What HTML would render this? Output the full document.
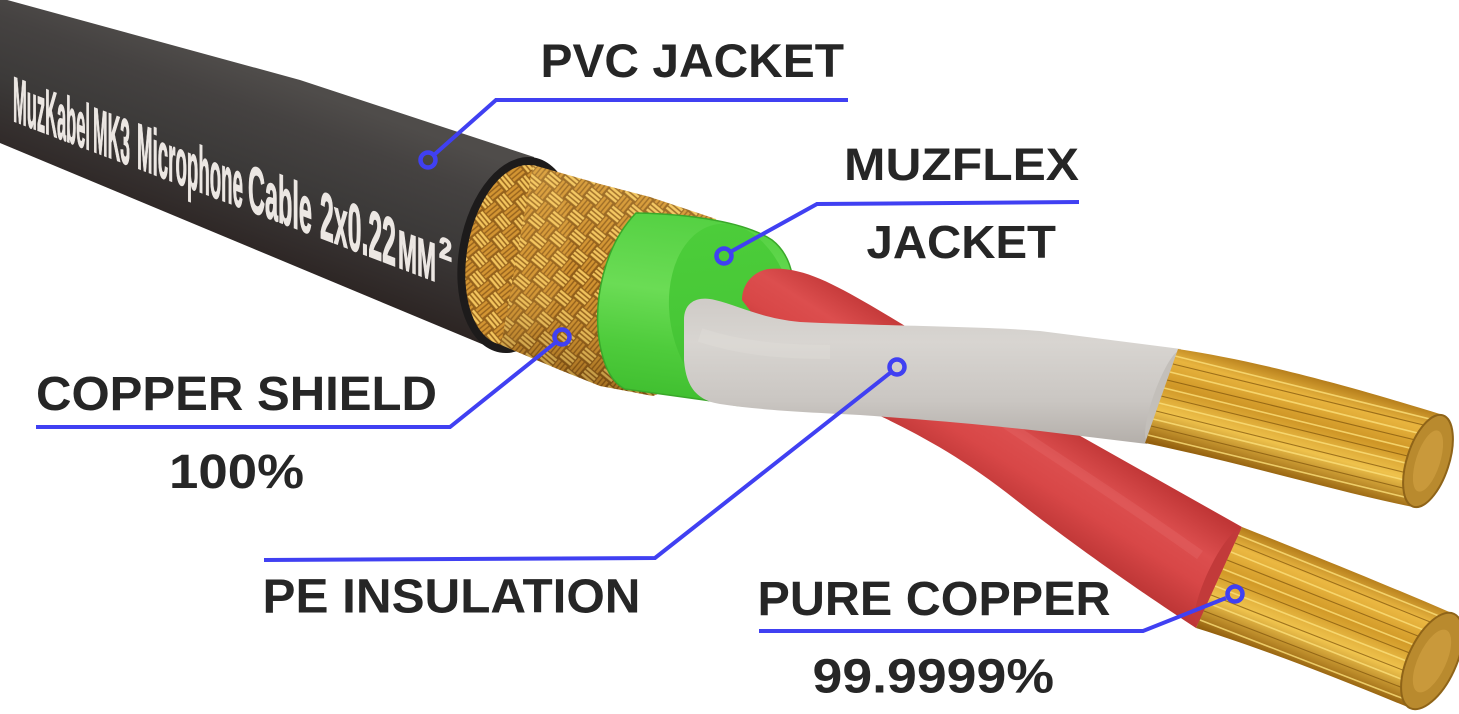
<!DOCTYPE html>
<html><head><meta charset="utf-8"><style>
html,body{margin:0;padding:0;background:#fff;}
svg{display:block;}
</style></head><body>
<svg width="1459" height="714" viewBox="0 0 1459 714" xmlns="http://www.w3.org/2000/svg">
<defs>
 <linearGradient id="gBlack" gradientUnits="userSpaceOnUse" x1="250" y1="68" x2="185" y2="245">
  <stop offset="0" stop-color="#4f4c4a"/>
  <stop offset="0.2" stop-color="#454241"/>
  <stop offset="0.5" stop-color="#3c3a39"/>
  <stop offset="0.8" stop-color="#322c2b"/>
  <stop offset="1" stop-color="#2a2220"/>
 </linearGradient>
 <pattern id="braid" width="28" height="28" patternUnits="userSpaceOnUse" patternTransform="rotate(40)">
  <rect width="28" height="28" fill="#8a5614"/>
  <path d="M0,2.5H14M0,6.5H14M0,10.5H14M14,16.5H28M14,20.5H28M14,24.5H28" stroke="#f2c45c" stroke-width="2.6"/>
  <path d="M16.5,0V14M20.5,0V14M24.5,0V14M2.5,14V28M6.5,14V28M10.5,14V28" stroke="#cf8f2c" stroke-width="2.6"/>
 </pattern>
 <linearGradient id="gBraidShade" gradientUnits="userSpaceOnUse" x1="610" y1="185" x2="565" y2="390">
  <stop offset="0" stop-color="#ffe08a" stop-opacity="0.2"/>
  <stop offset="0.45" stop-color="#ffd070" stop-opacity="0.05"/>
  <stop offset="1" stop-color="#3a2000" stop-opacity="0.35"/>
 </linearGradient>
 <linearGradient id="gGreen" gradientUnits="userSpaceOnUse" x1="650" y1="212" x2="625" y2="400">
  <stop offset="0" stop-color="#55d143"/>
  <stop offset="0.4" stop-color="#6bdc55"/>
  <stop offset="0.7" stop-color="#4fcc3c"/>
  <stop offset="1" stop-color="#3ebd2e"/>
 </linearGradient>
 <linearGradient id="gGreenFace" gradientUnits="userSpaceOnUse" x1="740" y1="225" x2="730" y2="405">
  <stop offset="0" stop-color="#4ccd3a"/>
  <stop offset="0.5" stop-color="#48c837"/>
  <stop offset="1" stop-color="#3fbb30"/>
 </linearGradient>
 <linearGradient id="gRed" gradientUnits="userSpaceOnUse" x1="1090" y1="435" x2="1030" y2="530">
  <stop offset="0" stop-color="#c03636"/>
  <stop offset="0.35" stop-color="#dc4e4e"/>
  <stop offset="0.6" stop-color="#d84747"/>
  <stop offset="1" stop-color="#b93333"/>
 </linearGradient>
 <linearGradient id="gGrey" gradientUnits="userSpaceOnUse" x1="0" y1="298" x2="0" y2="445">
  <stop offset="0" stop-color="#cfcbc7"/>
  <stop offset="0.3" stop-color="#d8d5d1"/>
  <stop offset="0.7" stop-color="#cac6c2"/>
  <stop offset="1" stop-color="#b3aea9"/>
 </linearGradient>
 <linearGradient id="gTip1" gradientUnits="userSpaceOnUse" x1="1300" y1="372" x2="1272" y2="475">
  <stop offset="0" stop-color="#b07818"/>
  <stop offset="0.2" stop-color="#e8b43e"/>
  <stop offset="0.45" stop-color="#cf9626"/>
  <stop offset="0.7" stop-color="#efc24c"/>
  <stop offset="1" stop-color="#94600e"/>
 </linearGradient>
 <linearGradient id="gTip2" gradientUnits="userSpaceOnUse" x1="1335" y1="562" x2="1295" y2="665">
  <stop offset="0" stop-color="#b07818"/>
  <stop offset="0.2" stop-color="#ebb842"/>
  <stop offset="0.45" stop-color="#d29a28"/>
  <stop offset="0.7" stop-color="#f0c44e"/>
  <stop offset="1" stop-color="#94600e"/>
 </linearGradient>
 <clipPath id="cTip1"><path d="M1178,349 C1250,360 1330,380 1443,415 L1453,445 L1413,507 C1330,490 1250,465 1145,443 Z"/></clipPath>
 <clipPath id="cTip2"><path d="M1242,527 C1300,550 1380,582 1454,614 L1462,650 L1410,708 C1330,675 1260,648 1196,628 Z"/></clipPath>
</defs>

<rect width="1459" height="714" fill="#ffffff"/>

<!-- Black PVC jacket -->
<path d="M0,-2 L300,80 L534,157 L501,352 L0,143 Z" fill="url(#gBlack)"/>
<ellipse cx="517" cy="255" rx="58" ry="99" transform="rotate(10 517 255)" fill="#1d1b1b"/>

<!-- Jacket print -->
<g transform="matrix(1,0.38,0,1,0,0)" font-family="'Liberation Sans Narrow','Liberation Sans',sans-serif" font-weight="bold" fill="#ece7e3" stroke="#ece7e3" stroke-width="1.3">
 <text x="13" y="116" font-size="64" textLength="77" lengthAdjust="spacingAndGlyphs">MuzKabel</text>
 <text x="93" y="116" font-size="64" textLength="37" lengthAdjust="spacingAndGlyphs">MK3</text>
 <text x="137" y="116" font-size="65" textLength="106" lengthAdjust="spacingAndGlyphs">Microphone</text>
 <text x="248" y="116" font-size="66" textLength="64" lengthAdjust="spacingAndGlyphs">Cable</text>
 <text x="320" y="116" font-size="67" textLength="76" lengthAdjust="spacingAndGlyphs">2x0.22</text>
 <text x="398" y="116" font-size="54" textLength="38" lengthAdjust="spacingAndGlyphs">MM</text>
 <text x="439" y="90" font-size="30" textLength="13" lengthAdjust="spacingAndGlyphs">2</text>
</g>

<!-- Copper shield -->
<ellipse cx="517" cy="255" rx="50" ry="91" transform="rotate(10 517 255)" fill="url(#braid)"/>
<path d="M533,165 L600,184 L650,197 L716,219 L722,300 L690,380 L653,396 L600,386 L560,370 L501,345 Z" fill="url(#braid)"/>
<ellipse cx="517" cy="255" rx="50" ry="91" transform="rotate(10 517 255)" fill="#ffd070" opacity="0.1"/>
<path d="M533,165 L600,184 L650,197 L716,219 L722,300 L690,380 L653,396 L600,386 L560,370 L501,345 Z" fill="url(#gBraidShade)"/>

<!-- Green Muzflex jacket -->
<path d="M636,213 C690,214 745,222 772,240 C795,258 797,290 790,320 L748,406 L625,389 C613,383 605,370 600,345 C592,300 605,245 636,213 Z" fill="url(#gGreen)" stroke="#3aa82a" stroke-width="1.5"/>
<ellipse cx="732" cy="315" rx="62" ry="92" transform="rotate(-10 732 315)" fill="url(#gGreenFace)"/>

<!-- Red wire -->
<path d="M742,300 C742,285 752,272 768,269 C800,266 830,282 870,305 C950,352 1010,395 1075,433 L1242,527 L1196,628 C1150,598 1080,550 1016,500 C960,455 910,430 874,413 C820,385 775,345 742,300 Z" fill="url(#gRed)"/>
<path d="M1000,420 C1060,460 1130,505 1200,555" stroke="#e66a6a" stroke-width="10" fill="none" opacity="0.35"/>
<ellipse cx="1219" cy="577" rx="12" ry="52" transform="rotate(25 1219 577)" fill="#c23a3a"/>

<!-- Grey wire -->
<path d="M684,320 C684,300 700,296 715,300 C740,306 760,318 800,322 C880,326 980,326 1040,331 L1181,349 L1147,444 L1040,431 C960,422 900,418 860,415 C800,412 760,410 720,404 C695,400 686,385 684,360 Z" fill="url(#gGrey)"/>
<path d="M700,335 C740,348 780,352 830,352" stroke="#e2dfdb" stroke-width="14" fill="none" opacity="0.35"/>
<ellipse cx="1164" cy="396" rx="10" ry="48" transform="rotate(20 1164 396)" fill="#c3bfba"/>

<!-- Upper copper tip -->
<path d="M1178,349 C1250,360 1330,380 1443,415 L1453,445 L1413,507 C1330,490 1250,465 1145,443 Z" fill="url(#gTip1)"/>
<g clip-path="url(#cTip1)" fill="none">
 <path d="M1175,356L1438,421M1170,372L1434,437M1164,388L1430,453M1159,403L1426,468M1153,419L1421,484M1148,435L1417,500" stroke="#fbe07a" stroke-width="1.6" opacity="0.8"/>
 <path d="M1173,364L1436,428M1167,380L1432,444M1161,396L1428,461M1156,411L1423,477M1151,426L1419,492" stroke="#7e520c" stroke-width="1.1" opacity="0.7"/>
</g>
<ellipse cx="1428" cy="461" rx="21" ry="48" transform="rotate(18 1428 461)" fill="#b98a2e" stroke="#8f6418" stroke-width="2"/>
<ellipse cx="1428" cy="461" rx="12" ry="32" transform="rotate(18 1428 461)" fill="#d4a444" opacity="0.6"/>

<!-- Lower copper tip -->
<path d="M1242,527 C1300,550 1380,582 1454,614 L1462,650 L1410,708 C1330,675 1260,648 1196,628 Z" fill="url(#gTip2)"/>
<g clip-path="url(#cTip2)" fill="none">
 <path d="M1238,535L1449,620M1231,552L1441,637M1223,569L1434,653M1215,586L1427,669M1208,603L1419,686M1200,620L1412,702" stroke="#fbe07a" stroke-width="1.6" opacity="0.8"/>
 <path d="M1235,543L1445,628M1227,560L1438,644M1219,578L1430,661M1211,595L1423,678M1204,611L1416,693" stroke="#7e520c" stroke-width="1.1" opacity="0.7"/>
</g>
<ellipse cx="1432" cy="661" rx="24" ry="52" transform="rotate(25 1432 661)" fill="#b98a2e" stroke="#8f6418" stroke-width="2"/>
<ellipse cx="1432" cy="661" rx="14" ry="34" transform="rotate(25 1432 661)" fill="#d4a444" opacity="0.6"/>

<!-- Callout lines -->
<g stroke="#4040f2" stroke-width="4" fill="none" stroke-linejoin="miter">
 <polyline points="848,100 496,100 435,154"/>
 <polyline points="1079,202 817,204 732,251"/>
 <polyline points="36,427 450,427 555,343"/>
 <polyline points="264,560 655,558 890,373"/>
 <polyline points="759,631 1143,631 1226,598"/>
</g>
<g stroke="#4040f2" stroke-width="4.5" fill="none">
 <circle cx="428" cy="160" r="7.5"/>
 <circle cx="724" cy="256" r="7.5"/>
 <circle cx="562" cy="337" r="7.5"/>
 <circle cx="897" cy="367" r="7.5"/>
 <circle cx="1235" cy="594" r="7.5"/>
</g>

<!-- Labels -->
<g font-family="'Liberation Sans',sans-serif" font-weight="bold" fill="#262626">
 <text x="540.5" y="77" font-size="47" textLength="303.5" lengthAdjust="spacingAndGlyphs">PVC JACKET</text>
 <text x="844" y="180" font-size="45" textLength="235" lengthAdjust="spacingAndGlyphs">MUZFLEX</text>
 <text x="866.5" y="258" font-size="46" textLength="189.5" lengthAdjust="spacingAndGlyphs">JACKET</text>
 <text x="36" y="410" font-size="48" textLength="401" lengthAdjust="spacingAndGlyphs">COPPER SHIELD</text>
 <text x="169" y="488" font-size="48" textLength="135" lengthAdjust="spacingAndGlyphs">100%</text>
 <text x="262.5" y="612.7" font-size="48" textLength="378" lengthAdjust="spacingAndGlyphs">PE INSULATION</text>
 <text x="757.5" y="615" font-size="48" textLength="353" lengthAdjust="spacingAndGlyphs">PURE COPPER</text>
 <text x="812.5" y="692.7" font-size="48" textLength="241.5" lengthAdjust="spacingAndGlyphs">99.9999%</text>
</g>
</svg>
</body></html>
